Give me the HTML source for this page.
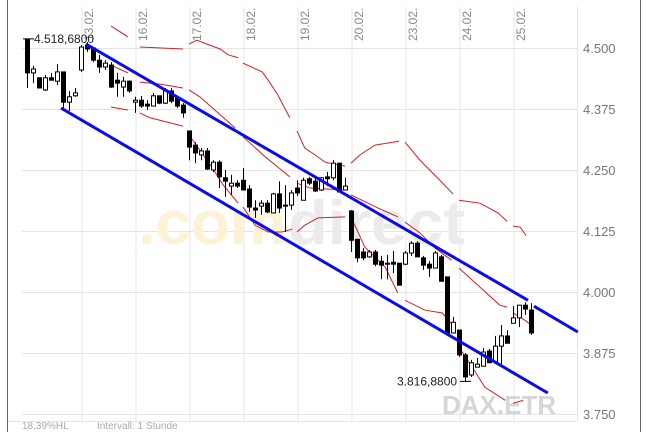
<!DOCTYPE html>
<html><head><meta charset="utf-8"><style>
html,body{margin:0;padding:0;background:#fff;}
svg{display:block;font-family:"Liberation Sans",sans-serif;}
</style></head><body>
<svg id="chart" width="653" height="432" viewBox="0 0 653 432" xmlns="http://www.w3.org/2000/svg">
<rect x="0" y="0" width="653" height="432" fill="#fff"/>
<g id="grid"></g>
<g>
<text x="138" y="244" font-size="62" font-weight="bold" fill="#fdf2d6" textLength="148" lengthAdjust="spacingAndGlyphs">.com</text>
<text x="288" y="244" font-size="62" font-weight="bold" fill="#ebebeb" textLength="177" lengthAdjust="spacingAndGlyphs">direct</text>
<text x="442" y="414" font-size="26" font-weight="bold" fill="#d6d6d6">DAX.ETR</text>
</g>
<g id="xlabels"></g>
<g id="ylabels"></g>
<g id="bands"></g>
<g id="candles"></g>
<g id="trend"></g>
<g id="annot"></g>
<line x1="7.5" y1="0" x2="7.5" y2="432" stroke="#666"/>
<line x1="640.5" y1="0" x2="640.5" y2="432" stroke="#666"/>
<text x="22" y="429" font-size="10" fill="#aaa">18,39%HL</text>
<text x="97" y="429" font-size="10" fill="#aaa">Intervall: 1 Stunde</text>
</svg>
<script>
const yTicks=[4500,4375,4250,4125,4000,3875,3750];
const yTickLabels=["4.500","4.375","4.250","4.125","4.000","3.875","3.750"];
const dayStarts=[9,18,27,36,45,54,63,72,81];
const dayLabels=["13.02.","16.02.","17.02.","18.02.","19.02.","20.02.","23.02.","24.02.","25.02."];
const opens=[4518,4449,4439,4414,4439,4432,4451,4389,4402, 4455,4506,4500,4475,4461,4465,4434,4420,4432, 4389,4393,4385,4381,4402,4387,4412,4398,4383,
4330,4301,4281,4289,4250,4266,4234,4217,4223, 4229,4211,4172,4176,4182,4162,4201,4178,4178, 4213,4188,4232,4227,4209,4236,4234,4264,4209,
4166,4108,4082,4072,4082,4063,4059,4061,4059, 4057,4080,4100,4070,4057,4049,4072,4031,3916, 3922,3871,3830,3846,3848,3879,3857,3889,3910, 3936,3947,3973,3963];
const closes=[4449,4457,4418,4439,4434,4451,4389,4400,4408, 4502,4498,4475,4461,4469,4420,4428,4432,4412, 4393,4381,4381,4402,4387,4414,4391,4381,4367,
4297,4285,4289,4252,4266,4236,4227,4223,4217, 4209,4174,4168,4182,4164,4201,4172,4176,4203, 4203,4229,4223,4207,4234,4232,4264,4205,4217,
4106,4070,4070,4082,4057,4055,4057,4057,4014, 4080,4100,4072,4055,4049,4080,4022,3916,3938, 3871,3826,3855,3852,3877,3855,3889,3910,3895, 3947,3973,3965,3916];
const highs=[4518.68,4463,4439,4445,4449,4467,4451,4412,4418, 4506,4512,4502,4486,4475,4471,4449,4441,4434, 4400,4402,4393,4408,4402,4418,4418,4402,4387,
4330,4307,4295,4295,4270,4270,4250,4240,4229, 4254,4219,4188,4188,4188,4203,4227,4219,4209, 4229,4234,4236,4234,4236,4246,4270,4264,4234,
4168,4108,4090,4086,4086,4074,4076,4084,4059, 4084,4104,4104,4074,4063,4084,4076,4031,3949, 3922,3875,3861,3865,3885,3883,3910,3932,3922, 3971,3973,3979,3977];
const lows=[4418,4428,4418,4412,4434,4424,4373,4371,4400, 4451,4492,4471,4449,4455,4418,4400,4400,4408, 4367,4377,4373,4381,4385,4385,4387,4377,4357,
4270,4264,4270,4250,4246,4213,4195,4199,4213, 4209,4164,4152,4158,4162,4162,4162,4123,4168, 4197,4193,4219,4205,4207,4217,4229,4205,4209,
4082,4061,4065,4070,4053,4026,4026,4039,4014, 4055,4074,4072,4045,4031,4049,4022,3916,3916, 3867,3816.88,3826,3846,3848,3855,3857,3852,3895, 3936,3928,3953,3912];
const bandUpper=[[[14,4545],[16.8,4523]],[[18.8,4502],[26,4498]],[[27,4508],[28.3,4516],[30,4508],[32.2,4498],[33.5,4486],[35.2,4480]],
[[36,4469],[39.2,4451],[40.2,4434],[41.8,4404],[43.8,4357]],[[45,4330],[46.3,4295],[48,4281],[49.7,4266],[53,4258]],
[[54,4264],[55.5,4281],[58,4301],[62,4309]],[[63,4307],[65.5,4270],[68.8,4229],[71,4201]],[[72,4188],[75.5,4182],[78.5,4162],[80,4145]],[[81,4135],[82.2,4133],[83.2,4115]]];
const bandMiddle=[[[14,4465],[16.8,4449]],[[18.8,4430],[22.2,4426],[26,4418]],[[27,4414],[28.8,4400],[31.3,4373],[34.7,4336]],
[[36,4318],[39.7,4277],[43.8,4236]],[[45,4223],[47.2,4213],[53,4209]],[[54,4199],[58.5,4172],[61.8,4154]],
[[63,4143],[65.5,4121],[68,4090],[70.8,4065]],[[72,4049],[75.5,4010],[78.8,3973],[80,3969]],[[81,3957],[83,3942],[84,3932]]];
const bandLower=[[[14,4379],[16.8,4373]],[[18.8,4367],[20.5,4357],[26,4340]],[[27,4322],[28.8,4291],[30.8,4256],[32.7,4219],[35.2,4182]],
[[36,4174],[38,4137],[40.2,4123],[42.5,4123],[44.2,4129]],[[45,4123],[46.3,4137],[48.5,4152],[53,4154]],[[54,4154],[56.3,4092],[59.7,4051],[61.8,3998]],
[[63,3983],[66.3,3963],[69.2,3957],[71.3,3928]],[[72,3887],[74.2,3846],[76.3,3805],[79.7,3778]],[[81,3772],[82.7,3778]]];
const trendLines=[[[9.83,4508],[83.5,3983]],[[84.5,3971],[91.8,3918]],[[5.67,4377],[86.8,3793]]];

const NS="http://www.w3.org/2000/svg";
function X(i){return 27+6*i;}
function Y(v){return 48+(4500-v)*61/125;}
function mk(tag,attrs,parent){const e=document.createElementNS(NS,tag);for(const k in attrs)e.setAttribute(k,attrs[k]);parent.appendChild(e);return e;}
const grid=document.getElementById('grid'),xl=document.getElementById('xlabels'),yl=document.getElementById('ylabels');
yTicks.forEach((t,k)=>{
  const l=mk('line',{x1:22,x2:577,y1:Y(t)+0.5,y2:Y(t)+0.5,stroke:'#e4e4e4'},grid);
  
  
  const tx=mk('text',{x:583,y:Y(t)+5,'font-size':13,fill:'#777'},yl);
  
  
  tx.textContent=yTickLabels[k];
});
dayStarts.forEach((d,k)=>{
  const x=X(d)+1;
  const l=mk('line',{x1:x,x2:x,y1:7,y2:421,stroke:'#e4e4e4'},grid);
  
  
  const tx=mk('text',{x:0,y:0,'font-size':12,fill:'#888',transform:`translate(${x+11},41) rotate(-90)`},xl);
  
  
  tx.textContent=dayLabels[k];
});
mk('line',{x1:577.5,x2:577.5,y1:7,y2:421,stroke:'#e4e4e4'},grid);
mk('line',{x1:8,x2:577,y1:421.5,y2:421.5,stroke:'#e4e4e4'},grid);
const bands=document.getElementById('bands');
[bandUpper,bandMiddle,bandLower].forEach(set=>set.forEach(seg=>{
  const p=mk('polyline',{points:seg.map(q=>X(q[0])+','+Y(q[1])).join(' '),fill:'none',stroke:'#d42020','stroke-width':1},bands);
  
  
}));
const cg=document.getElementById('candles');
opens.forEach((o,i)=>{
  const c=closes[i],x=X(i);
  const w=mk('line',{x1:x+0.5,x2:x+0.5,y1:Y(highs[i]),y2:Y(lows[i]),stroke:'#000'},cg);
  
  
  const top=Y(Math.max(o,c)),bot=Y(Math.min(o,c));
  const up=c>=o;
  const r=mk('rect',{x:x-1.5,y:top,width:4,height:Math.max(1,bot-top),fill:up?'#fff':'#000',stroke:'#000','stroke-width':1},cg);
  
  
});
const tg=document.getElementById('trend');
trendLines.forEach(s=>{
  const l=mk('line',{x1:X(s[0][0]),y1:Y(s[0][1]),x2:X(s[1][0]),y2:Y(s[1][1]),stroke:'#0a0af0','stroke-width':3},tg);
  
  
});
const an=document.getElementById('annot');
const hiV=4518.68,loV=3816.88;
mk('line',{x1:23,x2:34,y1:Y(hiV),y2:Y(hiV),stroke:'#000'},an);
const t1=mk('text',{x:34,y:Y(hiV)+4,'font-size':12,fill:'#222'},an);


t1.textContent='4.518,6800';
mk('line',{x1:460,x2:471,y1:Y(loV),y2:Y(loV),stroke:'#000'},an);
const t2=mk('text',{x:397,y:Y(loV)+4,'font-size':12,fill:'#222'},an);


t2.textContent='3.816,8800';
</script>
</body></html>
